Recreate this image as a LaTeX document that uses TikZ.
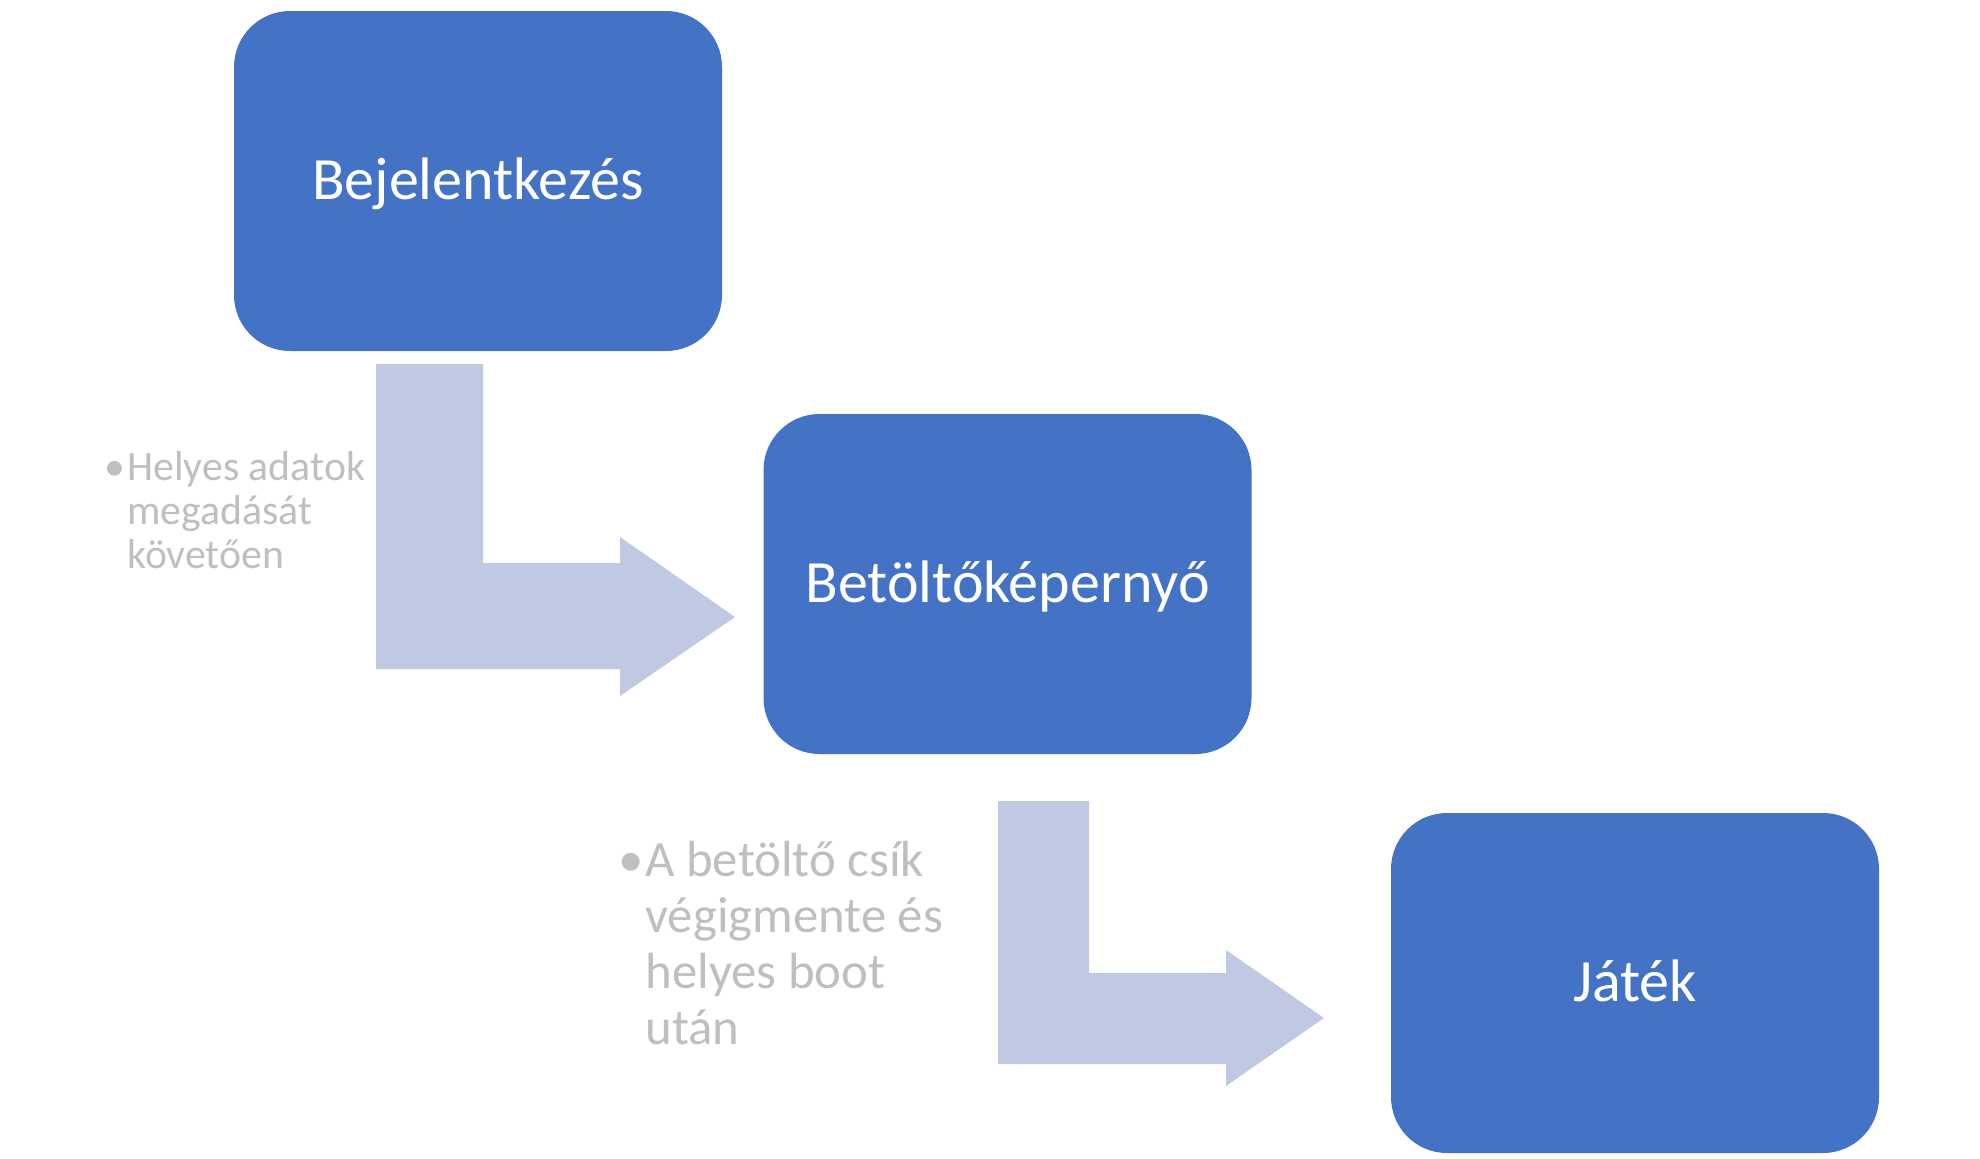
\documentclass[tikz,border=0pt]{standalone}
\usepackage{fontspec}
\setmainfont{Carlito}
\usepackage{tikz}
\definecolor{stage-blue}{HTML}{4472C4}
\definecolor{arrow-blue}{HTML}{BFC9E4}
\definecolor{note-grey}{HTML}{BFBFBF}

\begin{document}
\begin{tikzpicture}[x=0.5pt, y=-0.5pt,
    stage/.style={fill=stage-blue, rounded corners=28pt, minimum width=244pt, minimum height=170pt,
      inner sep=0pt, text=white, text height=22pt, text depth=3.5pt, font=\fontsize{30}{36}\selectfont},
    note/.style={anchor=base west, inner sep=0pt, align=left, text=note-grey}]
    \fill[white] (0, 0) rectangle (1980, 1158);
    \useasboundingbox (0, 0) rectangle (1980, 1158);
    \node[stage] (login) at (478, 181) {Bejelentkezés};
    \node[stage] (loading) at (1007.5, 584) {Betöltőképernyő};
    \node[stage] (game) at (1635, 983) {Játék};
    \fill[arrow-blue] (376, 364) -- (483, 364) -- (483, 563) -- (620, 563) -- (620, 537) -- (735, 617) -- (620, 696) -- (620, 669) -- (376, 669) -- cycle;
    \fill[arrow-blue] (998, 801) -- (1089, 801) -- (1089, 973) -- (1226, 973) -- (1226, 950) -- (1324, 1018) -- (1226, 1086) -- (1226, 1064) -- (998, 1064) -- cycle;
    % the base anchor sits on the last line
    \node[note, font=\fontsize{20.9}{22}\selectfont] (note1) at (127, 568) {\llap{•\kern1pt}Helyes adatok\\megadását\\követően};
    \node[note, font=\fontsize{25.4}{28}\selectfont] (note2) at (645, 1044) {\llap{•\kern1pt}A betöltő csík\\végigmente és\\helyes boot\\után};
  \end{tikzpicture}
\end{document}
